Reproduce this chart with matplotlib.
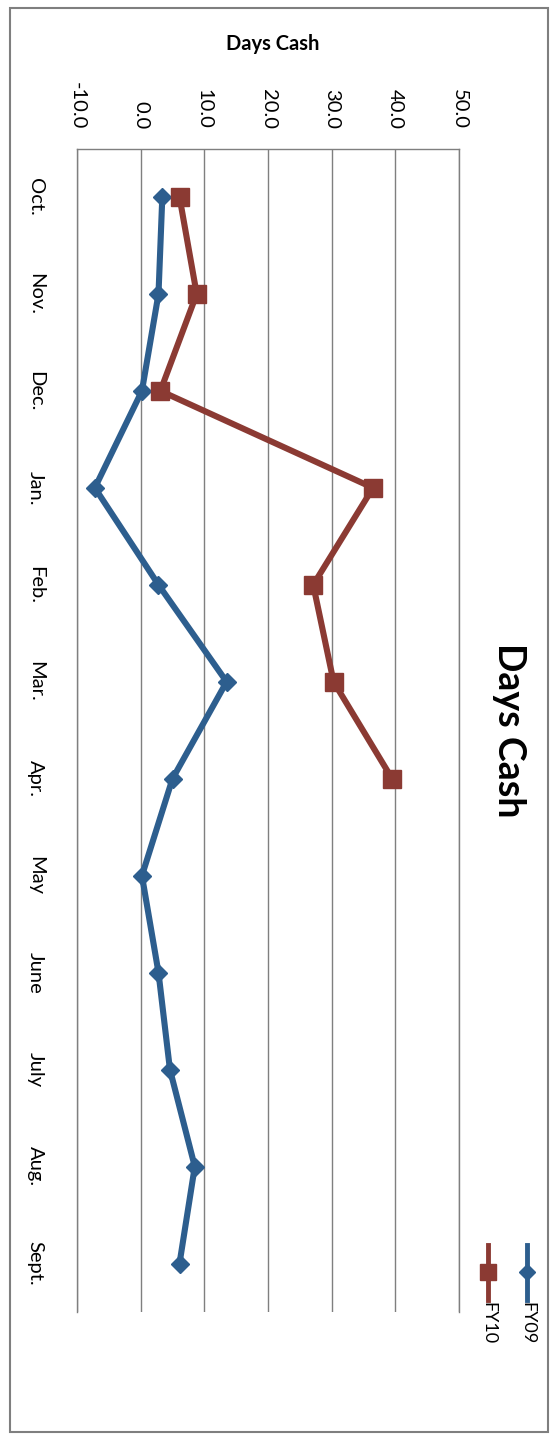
import matplotlib
matplotlib.use("Agg")
import matplotlib.pyplot as plt
from matplotlib.patches import Rectangle
from matplotlib.lines import Line2D

plt.rcParams['font.family'] = ['Lato', 'DejaVu Sans']

months = ['Oct.', 'Nov.', 'Dec.', 'Jan.', 'Feb.', 'Mar.', 'Apr.',
          'May', 'June', 'July', 'Aug.', 'Sept.']
fy09 = [3.4, 2.8, 0.2, -7.2, 2.8, 13.5, 5.0, 0.2, 2.8, 4.6, 8.5, 6.1]
fy10 = [6.1, 8.8, 3.1, 36.5, 27.1, 30.3, 39.5]
value_ticks = [-10, 0, 10, 20, 30, 40, 50]

blue = '#2d5e8e'
red = '#8b3a33'
grid = '#7f7f7f'

W, H = 556, 1437
fig = plt.figure(figsize=(W / 100, H / 100), dpi=100)

# chart-area border
fig.add_artist(Rectangle((10 / W, 5 / H), 538 / W, 1424 / H,
                         transform=fig.transFigure, fill=False,
                         edgecolor='#7f7f7f', lw=1.5))

# the chart is turned a quarter turn clockwise: months run down, values run right
ax = fig.add_axes([77 / W, 1 - 1312 / H, 382 / W, (1312 - 148.5) / H])

ax.plot(fy09, range(len(fy09)), color=blue, lw=4.4, marker='D', ms=9.5,
        markeredgecolor=blue, zorder=3)
ax.plot(fy10, range(len(fy10)), color=red, lw=4.4, marker='s', ms=13,
        markeredgecolor=red, zorder=3)

ax.set_xlim(-10, 50)
ax.set_ylim(len(months) - 0.5, -0.5)

ax.xaxis.tick_top()
ax.set_xticks(value_ticks)
ax.set_xticklabels([f'{v:.1f}' for v in value_ticks], rotation=270,
                   fontsize=14.5)
ax.set_yticks(range(len(months)))
ax.set_yticklabels(months, rotation=270, va='center', fontsize=14.5)
ax.tick_params(axis='x', length=0, pad=14)
ax.tick_params(axis='y', length=0, pad=24)

ax.grid(axis='x', color=grid, lw=1)
ax.set_axisbelow(True)
for side in ['left', 'top', 'right']:
    ax.spines[side].set_color(grid)
    ax.spines[side].set_linewidth(1)
ax.spines['bottom'].set_visible(False)

# value-axis title (horizontal once turned) and chart title
fig.text(273 / W, 1 - 44 / H, 'Days Cash', ha='center', va='center',
         fontsize=14.5, fontweight='bold')
fig.text(509 / W, 1 - 730 / H, 'Days Cash', ha='center', va='center',
         rotation=270, fontsize=27, fontweight='bold')

# legend, turned like the rest
for x, col, mk, ms, name in [(527, blue, 'D', 8.5, 'FY09'),
                             (488, red, 's', 11, 'FY10')]:
    fig.add_artist(Line2D([x / W, x / W], [1 - 1245 / H, 1 - 1300 / H],
                          transform=fig.transFigure, color=col, lw=3.5))
    fig.add_artist(Line2D([x / W], [1 - 1272 / H], transform=fig.transFigure,
                          color=col, marker=mk, ms=ms, markeredgecolor=col))
    fig.text(x / W, 1 - 1302 / H, name, rotation=270, ha='center', va='top',
             fontsize=13)

fig.savefig('out.png', dpi=100, facecolor='white')
